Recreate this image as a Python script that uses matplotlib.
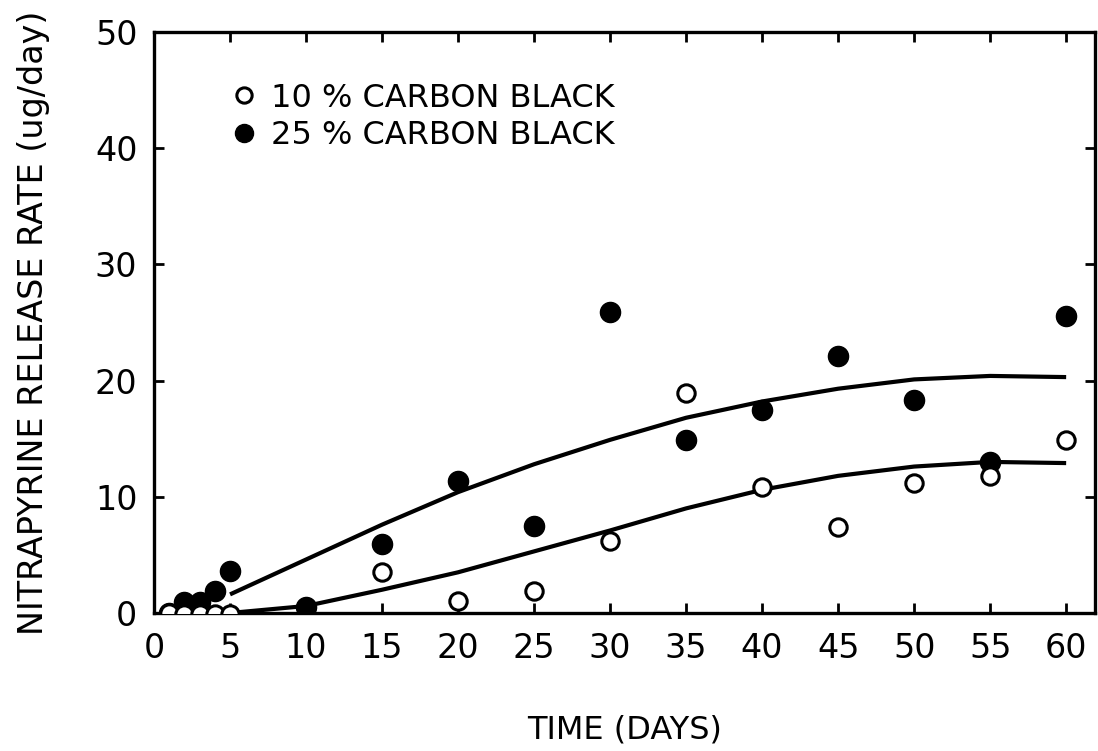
import matplotlib
matplotlib.use("Agg")
import matplotlib.pyplot as plt

# ---- data ----
days_25 = [1, 2, 3, 4, 5, 10, 15, 20, 25, 30, 35, 40, 45, 50, 55, 60]
rate_25 = [0.0, 0.95, 0.95, 1.9, 3.6, 0.5, 5.9, 11.4, 7.5, 25.9, 14.9, 17.5, 22.1, 18.3, 13.0, 25.6]

days_10 = [1, 2, 3, 4, 5, 15, 20, 25, 30, 35, 40, 45, 50, 55, 60]
rate_10 = [0.0, -0.1, -0.1, -0.1, -0.1, 3.5, 1.0, 1.9, 6.2, 18.9, 10.8, 7.4, 11.2, 11.8, 14.9]

fit_days = [5, 10, 15, 20, 25, 30, 35, 40, 45, 50, 55, 60]
fit_25 = [1.6, 4.6, 7.6, 10.4, 12.8, 14.9, 16.8, 18.2, 19.3, 20.1, 20.4, 20.3]
fit_10 = [0.0, 0.6, 2.0, 3.5, 5.3, 7.1, 9.0, 10.6, 11.8, 12.6, 13.0, 12.9]

x_ticks = list(range(0, 61, 5))
y_ticks = list(range(0, 51, 10))

label_10 = "10 % CARBON BLACK"
label_25 = "25 % CARBON BLACK"
x_label = "TIME (DAYS)"
y_label = "NITRAPYRINE RELEASE RATE (ug/day)"

plt.rcParams['font.family'] = ['DejaVu Sans']
FS_TICK = 24
FS = 23

fig = plt.figure(figsize=(10.98, 7.51), dpi=100)
ax = fig.add_axes([0.1403, 0.1838, 0.8570, 0.7736])

ax.plot(fit_days, fit_25, color='black', lw=3, zorder=2, solid_capstyle='butt')
ax.plot(fit_days, fit_10, color='black', lw=3, zorder=2, solid_capstyle='butt')

h25, = ax.plot(days_25, rate_25, 'o', color='black', ms=14.5, mec='black',
               zorder=3, label=label_25, linestyle='none')
h10, = ax.plot(days_10, rate_10, 'o', mfc='white', mec='black', mew=2.2, ms=12.5,
               zorder=4, label=label_10, linestyle='none')

ax.set_xlim(0, 61.9)
ax.set_ylim(0, 50)
ax.set_xticks(x_ticks)
ax.set_yticks(y_ticks)
ax.tick_params(direction='in', length=7, width=2, top=True, right=True,
               labelsize=FS_TICK, pad=12)
ax.tick_params(axis='x', pad=14)
for s in ax.spines.values():
    s.set_linewidth(2.4)

ax.set_xlabel(x_label, fontsize=FS, labelpad=35)
ax.set_ylabel(y_label, fontsize=24, labelpad=32)

leg = ax.legend(handles=[h10, h25], loc='upper left', bbox_to_anchor=(0.068, 0.935),
                frameon=False, fontsize=FS, handlelength=0.8, handletextpad=0.45,
                labelspacing=0.2, borderaxespad=0)
for hd, ms in zip(leg.legend_handles, [11, 13]):
    hd.set_markersize(ms)

fig.savefig("out.png", dpi=100)
